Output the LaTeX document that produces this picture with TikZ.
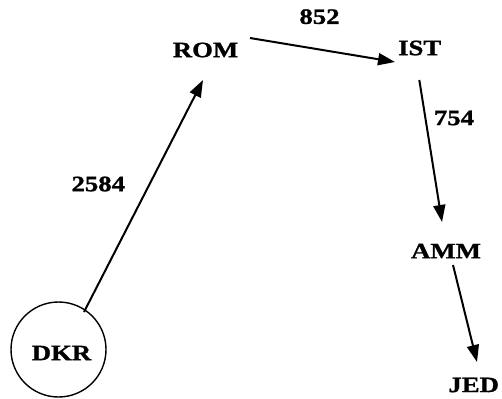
\documentclass[tikz,border=0pt]{standalone}
\usepackage{fontspec}
\setmainfont{Liberation Serif}[FakeStretch=1.22, BoldFeatures={FakeBold=1.2}]
\usetikzlibrary{arrows.meta,calc}
\begin{document}
\begin{tikzpicture}[x=1bp,y=1bp,
  lbl/.style={font=\fontsize{22}{24}\selectfont\bfseries, inner sep=0pt},
  arr/.style={line width=2bp, -{Triangle[length=17bp,width=12bp]}}]
\useasboundingbox (0,0) rectangle (502,398);
\node[lbl] (rom) at (205.5,348) {ROM};
\node[lbl] (ist) at (419.7,350) {IST};
\node[lbl] (amm) at (446,147) {AMM};
\node[lbl] (jed) at (473.7,13) {JED};
\node[draw, circle, line width=1.4bp, minimum size=95bp, inner sep=0pt] (dkr) at (58.5,48.5) {};
\node[lbl] (dkrt) at (61.5,45) {DKR};
\node[lbl] (l852) at (319.5,381.3) {852};
\node[lbl] (l754) at (454,280) {754};
\node[lbl] (l2584) at (98.3,214) {2584};
\draw[arr] ($(dkr)+(25.5,37.5)$) -- ($(rom)+(-2.5,-30)$);
\draw[arr] ($(rom)+(44.5,12)$) -- ($(ist)+(-24.7,-14)$);
\draw[arr] ($(ist)+(-0.4,-32)$) -- ($(amm)+(-4,29)$);
\draw[arr] ($(amm)+(7,-14)$) -- ($(jed)+(3.3,23)$);
\end{tikzpicture}
\end{document}
